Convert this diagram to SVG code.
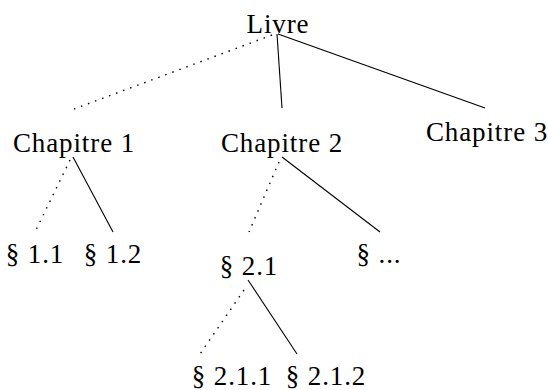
<svg xmlns="http://www.w3.org/2000/svg" width="548" height="390" viewBox="0 0 548 390">
<style>
text{font-family:"Liberation Serif","Times New Roman",serif;font-size:27px;fill:#000;text-anchor:middle;letter-spacing:0.9px}
.s{stroke:#000;stroke-width:1.1;fill:none}
.d{stroke:#000;stroke-width:1.4;fill:none;stroke-dasharray:1.5 6}
</style>
<rect width="548" height="390" fill="#fff"/>
<g id="connectors">
<line class="d" x1="272" y1="35" x2="74" y2="109"/>
<line class="s" x1="277" y1="34" x2="282" y2="108"/>
<line class="s" x1="278" y1="34" x2="485" y2="108"/>
<line class="d" x1="70" y1="160" x2="35" y2="232"/>
<line class="s" x1="73" y1="157" x2="113" y2="232"/>
<line class="d" x1="279" y1="162" x2="249" y2="232"/>
<line class="s" x1="282" y1="157" x2="380" y2="232"/>
<line class="d" x1="244" y1="290" x2="200" y2="354"/>
<line class="s" x1="248" y1="280" x2="297" y2="354"/>
</g>
<g id="livre"><text x="278" y="33">Livre</text></g>
<g id="ch1"><text x="74" y="152">Chapitre 1</text></g>
<g id="ch2"><text x="282" y="152">Chapitre 2</text></g>
<g id="ch3"><text x="487" y="141">Chapitre 3</text></g>
<g id="s11"><text x="35" y="263">§ 1.1</text></g>
<g id="s12"><text x="113" y="263">§ 1.2</text></g>
<g id="s21"><text x="249" y="275">§ 2.1</text></g>
<g id="setc"><text x="379" y="263">§ ...</text></g>
<g id="s211"><text x="232" y="385">§ 2.1.1</text></g>
<g id="s212"><text x="326" y="385">§ 2.1.2</text></g>
</svg>
